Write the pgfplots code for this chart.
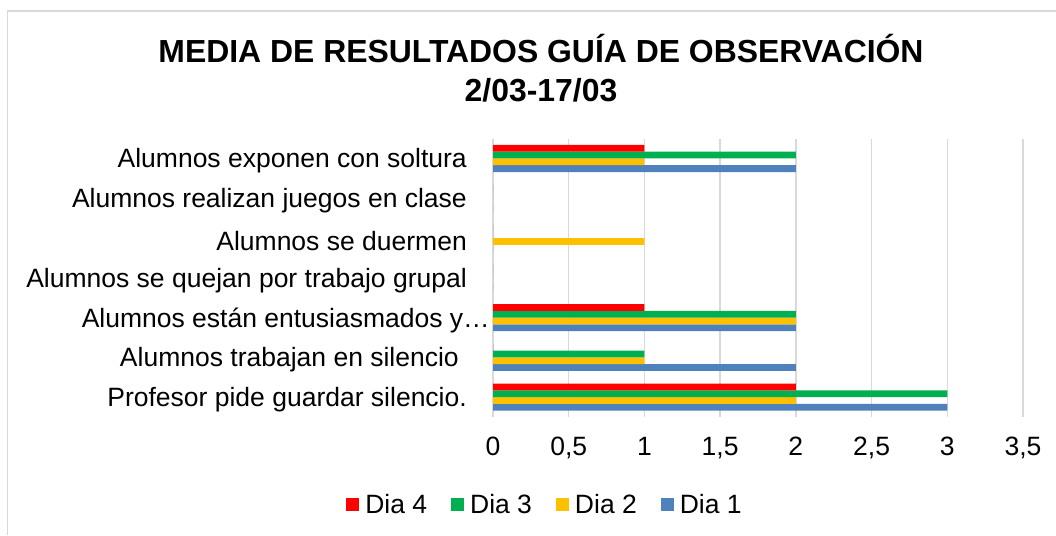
\documentclass[border=0pt]{standalone}
\usepackage{fontspec}
\setmainfont{Liberation Sans}
\usepackage{pgfplots}
\pgfplotsset{compat=1.18}
\definecolor{cred}{HTML}{FF0000}
\definecolor{cgreen}{HTML}{00B050}
\definecolor{cyellow}{HTML}{FFC000}
\definecolor{cblue}{HTML}{4F81BD}
\definecolor{cgrid}{HTML}{D9D9D9}
\begin{document}
\begin{tikzpicture}
\useasboundingbox (0,0) rectangle (1056pt,535pt);
\fill[white] (0,0) rectangle (1056pt,535pt);
\draw[cgrid, line width=1.5pt] (7.5pt,0) -- (7.5pt,524pt) -- (1056pt,524pt);
\node[font=\bfseries\fontsize{31.9}{38}\selectfont, anchor=base, inner sep=0pt] at (541pt,472pt) {MEDIA DE RESULTADOS GUÍA DE OBSERVACIÓN};
\node[font=\bfseries\fontsize{31.9}{38}\selectfont, anchor=base, inner sep=0pt] at (541pt,433pt) {2/03-17/03};
\begin{axis}[
  at={(493pt,118pt)}, anchor=south west, scale only axis,
  width=530pt, height=278.4pt,
  xbar, bar width=0.17,
  xmin=0, xmax=3.5, ymin=-0.5, ymax=6.5,
  xtick={0,0.5,1,1.5,2,2.5,3,3.5},
  ytick={0,1,2,3,4,5,6},
  yticklabels={Profesor pide guardar silencio., Alumnos trabajan en silencio\kern8pt, Alumnos están entusiasmados y…\kern-23pt, Alumnos se quejan por trabajo grupal, Alumnos se duermen, Alumnos realizan juegos en clase, Alumnos exponen con soltura},
  xmajorgrids, grid style={cgrid, line width=1.3pt},
  axis line style={draw=none}, major tick length=0pt,
  tick label style={font=\fontsize{26.5}{31}\selectfont},
  /pgf/number format/assume math mode=true,
  /pgf/number format/use comma,
  yticklabel style={anchor=east, inner sep=0pt, xshift=-26pt, yshift=-2.5pt},
  xticklabel style={anchor=north, inner sep=0pt, yshift=-20pt},
  reverse legend, legend columns=4,
  legend style={at={(0.0962,-0.316)}, anchor=center, draw=none, fill=none,
    font=\fontsize{26.5}{31}\selectfont,
    /tikz/every odd column/.append style={column sep=6pt},
    /tikz/every even column/.append style={column sep=24pt},
    nodes={inner sep=0pt}},
  legend image code/.code={\fill[#1] (0pt,-6.5pt) rectangle (13pt,6.5pt);},
]
\addplot[fill=cblue, draw=none, bar shift=-0.255] coordinates {(3,0) (2,1) (2,2) (0,3) (0,4) (0,5) (2,6)};
\addplot[fill=cyellow, draw=none, bar shift=-0.085] coordinates {(2,0) (1,1) (2,2) (0,3) (1,4) (0,5) (1,6)};
\addplot[fill=cgreen, draw=none, bar shift=0.085] coordinates {(3,0) (1,1) (2,2) (0,3) (0,4) (0,5) (2,6)};
\addplot[fill=cred, draw=none, bar shift=0.255] coordinates {(2,0) (0,1) (1,2) (0,3) (0,4) (0,5) (1,6)};
\legend{Dia 1, Dia 2, Dia 3, Dia 4}
\end{axis}
\end{tikzpicture}
\end{document}
